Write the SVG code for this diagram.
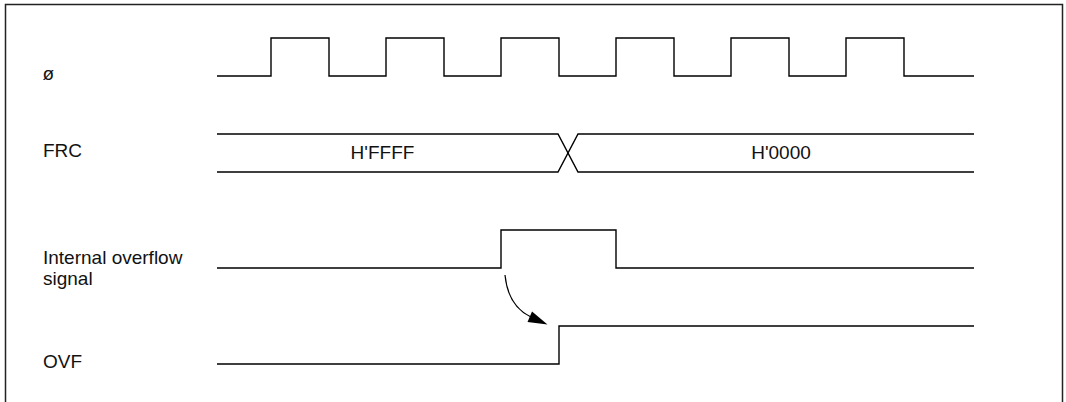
<svg xmlns="http://www.w3.org/2000/svg" width="1066" height="402" viewBox="0 0 1066 402">
  <style>
    .wave { fill: none; stroke: #000; stroke-width: 1.4; }
    .lbl { font-family: "Liberation Sans", Arial, sans-serif; font-size: 19px; fill: #111; }
    .mid { text-anchor: middle; }
  </style>
  <rect x="0" y="0" width="1066" height="402" fill="#fff"/>
  <path d="M5.5,410 V4.5 H1062.5 V410" fill="none" stroke="#222" stroke-width="1.5"/>

  <g id="clock">
    <text class="lbl" x="42.5" y="80">ø</text>
    <path class="wave" d="M217,76 H271 V38 H329 V76 H386 V38 H444 V76 H501 V38 H559 V76 H616 V38 H674 V76 H731 V38 H789 V76 H846 V38 H904 V76 H974"/>
  </g>

  <g id="frc">
    <text class="lbl" x="43" y="157">FRC</text>
    <path class="wave" d="M217,134 H558 L578,172 H974"/>
    <path class="wave" d="M217,172 H558 L578,134 H974"/>
    <text class="lbl mid" x="382.5" y="159">H'FFFF</text>
    <text class="lbl mid" x="781" y="159">H'0000</text>
  </g>

  <g id="overflow">
    <text class="lbl" x="43" y="264">Internal overflow</text>
    <text class="lbl" x="43" y="285">signal</text>
    <path class="wave" d="M217,268 H501 V230 H616 V268 H974"/>
  </g>

  <g id="ovf">
    <text class="lbl" x="43" y="368">OVF</text>
    <path class="wave" d="M217,364 H559 V326 H974"/>
  </g>

  <g id="connectors">
    <path d="M505,275 Q508,306 531,317" fill="none" stroke="#000" stroke-width="1.2"/>
    <polygon points="547.5,324.5 532,311.5 527.5,322" fill="#000"/>
  </g>
</svg>
